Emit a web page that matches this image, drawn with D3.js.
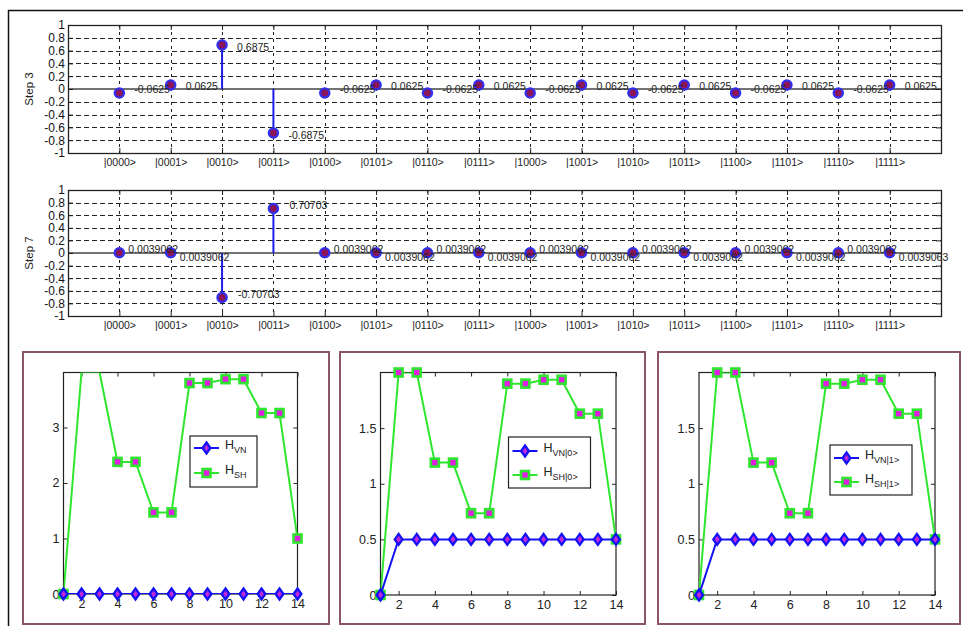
<!DOCTYPE html>
<html>
<head>
<meta charset="utf-8">
<script src="https://cdn.jsdelivr.net/npm/d3@7/dist/d3.min.js"></script>
<style>
  body { margin: 0; background: #fff; }
  svg { display: block; font-family: "Liberation Sans", Arial, sans-serif; }
</style>
</head>
<body>
<svg id="chart" width="963" height="626"></svg>
<script>
// Basis states of the 4-qubit register
const basisStates = ["|0000>", "|0001>", "|0010>", "|0011>", "|0100>", "|0101>", "|0110>", "|0111>",
                     "|1000>", "|1001>", "|1010>", "|1011>", "|1100>", "|1101>", "|1110>", "|1111>"];

// Amplitudes after step 3 and step 7
const step3Amplitudes = [-0.0625, 0.0625, 0.6875, -0.6875, -0.0625, 0.0625, -0.0625, 0.0625,
                         -0.0625, 0.0625, -0.0625, 0.0625, -0.0625, 0.0625, -0.0625, 0.0625];
const step7Amplitudes = [0.0039062, 0.0039062, -0.70703, 0.70703, 0.0039062, 0.0039062, 0.0039062, 0.0039062,
                         0.0039062, 0.0039062, 0.0039062, 0.0039062, 0.0039062, 0.0039062, 0.0039062, 0.0039063];
const amplitudeTicks = [-1, -0.8, -0.6, -0.4, -0.2, 0, 0.2, 0.4, 0.6, 0.8, 1];

// Entropy per step (steps 1..14)
const steps = [1, 2, 3, 4, 5, 6, 7, 8, 9, 10, 11, 12, 13, 14];
const stepTicks = [2, 4, 6, 8, 10, 12, 14];
const hVN  = [0, 0, 0, 0, 0, 0, 0, 0, 0, 0, 0, 0, 0, 0];
const hSH  = [0, 4, 4, 2.38, 2.38, 1.47, 1.47, 3.8, 3.8, 3.87, 3.87, 3.26, 3.26, 1];
const hVN0 = [0, 0.5, 0.5, 0.5, 0.5, 0.5, 0.5, 0.5, 0.5, 0.5, 0.5, 0.5, 0.5, 0.5];
const hSH0 = [0, 2, 2, 1.19, 1.19, 0.735, 0.735, 1.9, 1.9, 1.935, 1.935, 1.63, 1.63, 0.5];
const hVN1 = [0, 0.5, 0.5, 0.5, 0.5, 0.5, 0.5, 0.5, 0.5, 0.5, 0.5, 0.5, 0.5, 0.5];
const hSH1 = [0, 2, 2, 1.19, 1.19, 0.735, 0.735, 1.9, 1.9, 1.935, 1.935, 1.63, 1.63, 0.5];
const ticksH = [0, 1, 2, 3];
const ticksHalf = [0, 0.5, 1, 1.5];

const svg = d3.select("#chart");
const BLUE = "#1212f5", GREEN = "#2ee62e", MAGENTA = "#e020e0";
let clipId = 0;

// outer frame
svg.append("line").attr("x1", 8).attr("x2", 963).attr("y1", 10.5).attr("y2", 10.5)
  .attr("stroke", "#111").attr("stroke-width", 1.5);
svg.append("line").attr("x1", 8.5).attr("x2", 8.5).attr("y1", 10).attr("y2", 626)
  .attr("stroke", "#111").attr("stroke-width", 1.5);

function fmt(d) { return String(+d.toFixed(2)); }

function stemChart(o) {
  const g = svg.append("g");
  const x = d3.scaleLinear().domain([0, 17]).range([o.left, o.right]);
  const y = d3.scaleLinear().domain([-1, 1]).range([o.bottom, o.top]);
  const idx = basisStates.map((_, i) => i + 1);

  // dashed grid
  g.selectAll(".hg").data(amplitudeTicks.filter(t => t !== 0 && Math.abs(t) !== 1)).join("line")
    .attr("x1", o.left).attr("x2", o.right)
    .attr("y1", d => Math.round(y(d)) + 0.5).attr("y2", d => Math.round(y(d)) + 0.5)
    .attr("stroke", "#222").attr("stroke-width", 1).attr("stroke-dasharray", "5,3");
  g.selectAll(".vg").data(idx).join("line")
    .attr("x1", d => Math.round(x(d)) + 0.5).attr("x2", d => Math.round(x(d)) + 0.5)
    .attr("y1", o.top).attr("y2", o.bottom)
    .attr("stroke", "#222").attr("stroke-width", 1).attr("stroke-dasharray", "3,4");

  // zero baseline
  g.append("line").attr("x1", o.left).attr("x2", o.right)
    .attr("y1", y(0)).attr("y2", y(0)).attr("stroke", "#444").attr("stroke-width", 1.6);

  // axes with inward ticks
  const ax = (axis, tx, ty) => {
    const a = g.append("g").attr("transform", `translate(${tx},${ty})`).call(axis);
    a.select(".domain").remove();
    a.selectAll("line").attr("stroke", "#222");
    return a;
  };
  ax(d3.axisLeft(y).tickValues(amplitudeTicks).tickFormat(fmt).tickSizeInner(-5).tickSizeOuter(0).tickPadding(3), o.left, 0)
    .selectAll("text").attr("font-size", 12).attr("fill", "#111");
  ax(d3.axisRight(y).tickValues(amplitudeTicks).tickFormat("").tickSizeInner(-5).tickSizeOuter(0), o.right, 0);
  ax(d3.axisTop(x).tickValues(idx).tickFormat("").tickSizeInner(-5).tickSizeOuter(0), 0, o.top);
  ax(d3.axisBottom(x).tickValues(idx).tickFormat(d => basisStates[d - 1]).tickSizeInner(-5).tickSizeOuter(0).tickPadding(6), 0, o.bottom)
    .selectAll("text").attr("font-size", 10.5).attr("fill", "#222");

  g.append("rect").attr("x", o.left + 0.5).attr("y", o.top + 0.5)
    .attr("width", o.right - o.left).attr("height", o.bottom - o.top)
    .attr("fill", "none").attr("stroke", "#222").attr("stroke-width", 1.3);

  // y label
  g.append("text").attr("transform", `translate(${o.left - 35},${(o.top + o.bottom) / 2}) rotate(-90)`)
    .attr("text-anchor", "middle").attr("font-size", 11.5).attr("fill", "#222").text(o.label);

  // stems
  g.selectAll(".stem").data(o.values).join("line")
    .attr("x1", (d, i) => x(i + 1)).attr("x2", (d, i) => x(i + 1))
    .attr("y1", y(0)).attr("y2", d => y(d))
    .attr("stroke", "#1c1ce8").attr("stroke-width", 2);
  g.selectAll(".mk").data(o.values).join("circle")
    .attr("cx", (d, i) => x(i + 1)).attr("cy", d => y(d)).attr("r", 4.6)
    .attr("fill", "#8a1558").attr("stroke", "#3030f0").attr("stroke-width", 2.3);

  // value labels
  g.selectAll(".vl").data(o.values).join("text")
    .attr("x", (d, i) => x(i + 1) + o.dx(d))
    .attr("y", (d, i) => y(d) + o.dy(d, i))
    .attr("dominant-baseline", "middle")
    .attr("font-size", 10.5).attr("fill", "#222")
    .text(d => String(d));
}

stemChart({ left: 68, right: 941, top: 25, bottom: 153, values: step3Amplitudes, label: "Step 3",
  dx: d => 15, dy: (d, i) => Math.abs(d) > 0.1 ? 3 : (d < 0 ? -3 : 2) });
stemChart({ left: 68, right: 941, top: 190, bottom: 316, values: step7Amplitudes, label: "Step 7",
  dx: d => Math.abs(d) > 0.1 ? 16 : 9, dy: (d, i) => Math.abs(d) > 0.1 ? -2 : (i % 2 === 0 ? -3 : 5) });

// entropy panels
const diamond = "M0,-5.5L3.9,0L0,5.5L-3.9,0Z";
function drawMarker(sel, kind) {
  if (kind === "d") {
    sel.append("path").attr("d", diamond).attr("fill", "#c028d8").attr("stroke", BLUE).attr("stroke-width", 2.3);
  } else {
    sel.append("rect").attr("x", -4).attr("y", -4).attr("width", 8).attr("height", 8)
      .attr("fill", MAGENTA).attr("stroke", GREEN).attr("stroke-width", 2.6);
  }
}

function entropyPanel(o) {
  const g = svg.append("g");
  g.append("rect").attr("x", o.frame[0]).attr("y", o.frame[1])
    .attr("width", o.frame[2] - o.frame[0]).attr("height", o.frame[3] - o.frame[1])
    .attr("fill", "#fff").attr("stroke", "#8c5563").attr("stroke-width", 2);

  const x = d3.scaleLinear().domain([1, 14]).range([o.left, o.right]);
  const y = d3.scaleLinear().domain([0, o.ymax]).range([o.bottom, o.top]);

  const ax = (axis, tx, ty) => {
    const a = g.append("g").attr("transform", `translate(${tx},${ty})`).call(axis);
    a.select(".domain").remove();
    a.selectAll("line").attr("stroke", "#222");
    a.selectAll("text").attr("font-size", 12.5).attr("fill", "#222");
    return a;
  };
  ax(d3.axisLeft(y).tickValues(o.yticks).tickFormat(d => String(d)).tickSizeInner(-4).tickSizeOuter(0).tickPadding(4), o.left, 0);
  ax(d3.axisRight(y).tickValues(o.yticks).tickFormat("").tickSizeInner(-4).tickSizeOuter(0), o.right, 0);
  ax(d3.axisTop(x).tickValues(stepTicks).tickFormat("").tickSizeInner(-4).tickSizeOuter(0), 0, o.top);
  ax(d3.axisBottom(x).tickValues(stepTicks).tickFormat(d => String(d)).tickSizeInner(-4).tickSizeOuter(0).tickPadding(5), 0, o.bottom);

  g.append("rect").attr("x", o.left).attr("y", o.top)
    .attr("width", o.right - o.left).attr("height", o.bottom - o.top)
    .attr("fill", "none").attr("stroke", "#222").attr("stroke-width", 1.2);

  const cid = "clip" + (clipId++);
  g.append("clipPath").attr("id", cid).append("rect")
    .attr("x", o.left).attr("y", o.top).attr("width", o.right - o.left).attr("height", o.bottom - o.top);

  const line = d3.line().x((d, i) => x(steps[i])).y(d => y(d));
  const series = [{ v: o.sh, c: GREEN, k: "s" }, { v: o.vn, c: BLUE, k: "d" }];
  series.forEach(s => {
    g.append("path").attr("d", line(s.v)).attr("fill", "none").attr("stroke", s.c)
      .attr("stroke-width", 2).attr("clip-path", `url(#${cid})`);
    s.v.forEach((d, i) => {
      if (d > o.ymax) return; // outside the y-limits
      const m = g.append("g").attr("transform", `translate(${x(steps[i])},${y(d)})`);
      drawMarker(m, s.k);
    });
  });

  // legend
  const L = o.legend;
  const lg = g.append("g").attr("transform", `translate(${L.x},${L.y})`);
  lg.append("rect").attr("width", L.w).attr("height", L.h).attr("fill", "#fff")
    .attr("stroke", "#222").attr("stroke-width", 1.2);
  const entries = [{ c: BLUE, k: "d", sub: o.names[0] }, { c: GREEN, k: "s", sub: o.names[1] }];
  entries.forEach((e, i) => {
    const ey = L.row0 + i * L.gap;
    lg.append("line").attr("x1", 4).attr("x2", 29).attr("y1", ey).attr("y2", ey)
      .attr("stroke", e.c).attr("stroke-width", 2);
    drawMarker(lg.append("g").attr("transform", `translate(16.5,${ey})`), e.k);
    const t = lg.append("text").attr("x", 35).attr("y", ey + 1).attr("font-size", 12.5).attr("fill", "#222");
    t.append("tspan").text("H");
    t.append("tspan").attr("dy", 4).attr("font-size", 9).text(e.sub);
  });
}

entropyPanel({ frame: [23, 352, 329, 624], left: 63.5, right: 297.5, top: 372.5, bottom: 594, ymax: 3.99,
  yticks: ticksH, vn: hVN, sh: hSH, names: ["VN", "SH"],
  legend: { x: 190, y: 436, w: 67, h: 51, row0: 12, gap: 25 } });
entropyPanel({ frame: [340, 352, 645, 624], left: 380.5, right: 616, top: 372.5, bottom: 595, ymax: 2,
  yticks: ticksHalf, vn: hVN0, sh: hSH0, names: ["VN|0>", "SH|0>"],
  legend: { x: 508.5, y: 437, w: 82, h: 51, row0: 14, gap: 24 } });
entropyPanel({ frame: [658, 352, 960, 624], left: 699, right: 935, top: 372.5, bottom: 595, ymax: 2,
  yticks: ticksHalf, vn: hVN1, sh: hSH1, names: ["VN|1>", "SH|1>"],
  legend: { x: 830, y: 445, w: 82, h: 50, row0: 13, gap: 24 } });
</script>
</body>
</html>
